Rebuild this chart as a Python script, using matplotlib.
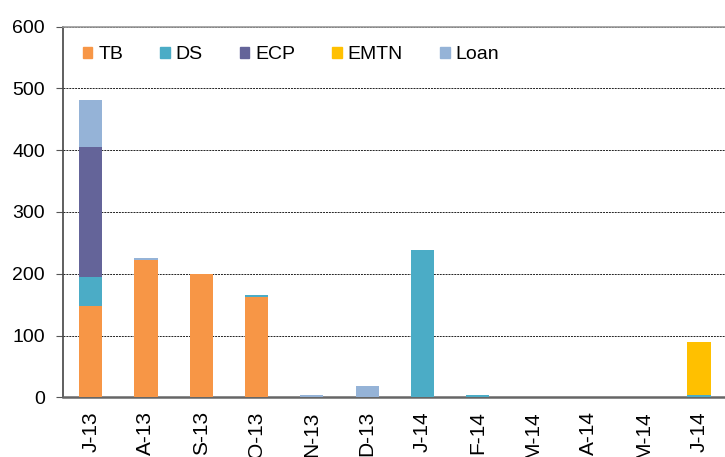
import matplotlib
matplotlib.use("Agg")
import matplotlib.pyplot as plt
import numpy as np
from matplotlib.patches import Patch

plt.rcParams['font.family'] = ['Liberation Sans', 'DejaVu Sans']

months = ['J-13', 'A-13', 'S-13', 'O-13', 'N-13', 'D-13',
          'J-14', 'F-14', 'M-14', 'A-14', 'M-14', 'J-14']
tb = [148, 223, 200, 163, 0, 0, 0, 0, 0, 0, 0, 0]
ds = [47, 0, 0, 2, 0, 0, 238, 3, 0, 0, 0, 4]
ecp = [210, 0, 0, 0, 0, 0, 0, 0, 0, 0, 0, 0]
emtn = [0, 0, 0, 0, 0, 0, 0, 0, 0, 0, 0, 86]
loan = [76, 2, 0, 0, 4, 18, 0, 0, 0, 0, 0, 0]

series = [('TB', tb, '#F79646'), ('DS', ds, '#4BACC6'), ('ECP', ecp, '#646499'),
          ('EMTN', emtn, '#FFC000'), ('Loan', loan, '#95B3D7')]

fig = plt.figure(figsize=(7.25, 4.57), dpi=100)
ax = fig.add_axes([63/725, 59.7/457, 663.6/725, 370.6/457])

x = np.arange(len(months))
bottom = np.zeros(len(months))
for name, vals, col in series:
    ax.bar(x, vals, 0.42, bottom=bottom, color=col, zorder=3)
    bottom += np.array(vals)

ax.set_xlim(-0.5, 11.5)
ax.set_ylim(0, 600)
ax.set_yticks(range(0, 601, 100))
ax.yaxis.grid(True, color='#222222', linestyle=(0, (2, 1)), linewidth=0.7, zorder=1)
ax.set_xticks(x)
ax.set_xticklabels(months, rotation=90, fontsize=15)
ax.tick_params(axis='y', labelsize=14, length=5, color='#555555', pad=8)
ax.tick_params(axis='x', length=0, pad=10)

ax.spines['right'].set_visible(False)
ax.spines['top'].set_color('#999999')
ax.spines['top'].set_linewidth(1.2)
ax.spines['left'].set_color('#444444')
ax.spines['left'].set_linewidth(1.2)
ax.spines['bottom'].set_color('#666666')
ax.spines['bottom'].set_linewidth(1.8)

handles = [Patch(color=col, label=name) for name, vals, col in series]
ax.legend(handles=handles, loc='center left', bbox_to_anchor=(0.015, 0.925),
          ncol=5, frameon=False, fontsize=14, borderpad=0, handlelength=0.5,
          handleheight=0.5, handletextpad=0.3, columnspacing=1.9)

fig.savefig('out.png', dpi=100)
